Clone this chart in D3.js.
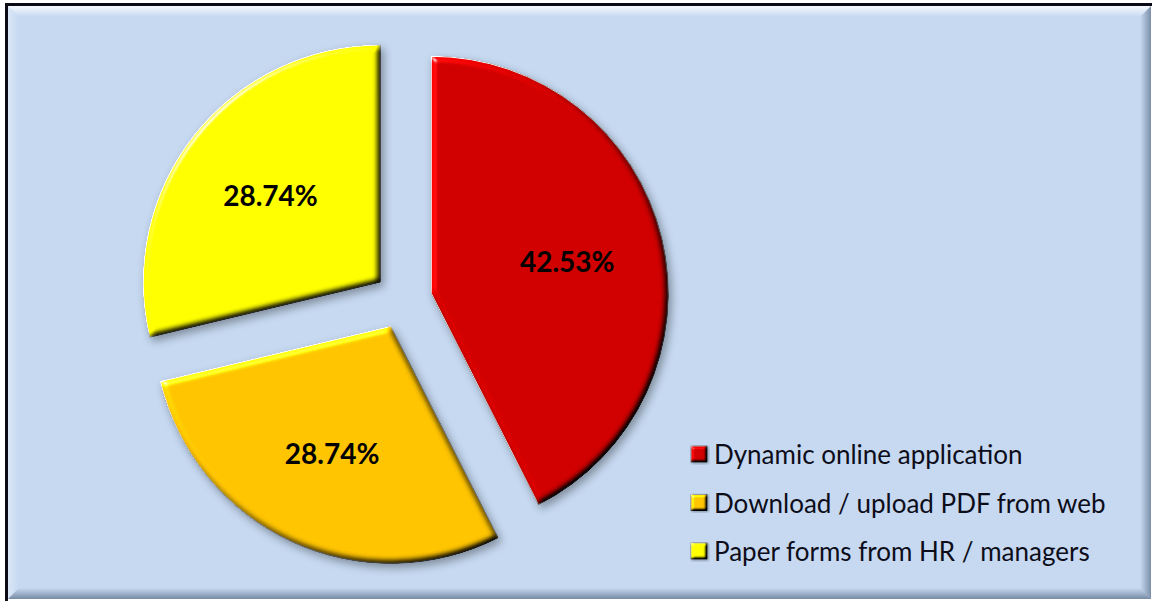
<!DOCTYPE html>
<html>
<head>
<meta charset="utf-8">
<script src="https://cdn.jsdelivr.net/npm/d3@7"></script>
<style>
  html, body { margin: 0; padding: 0; background: #ffffff; }
  svg { display: block; }
</style>
</head>
<body>
<svg id="chart" width="1157" height="603"></svg>
<script>
// Application method shares
const categories = ["Dynamic online application", "Download / upload PDF from web", "Paper forms from HR / managers"];
const shares = [42.53, 28.74, 28.74];
const valueLabels = ["42.53%", "28.74%", "28.74%"];
const sliceColors = ["#d00000", "#ffc400", "#ffff00"];

const W = 1157, H = 603;
const svg = d3.select("#chart");
const defs = svg.append("defs");

// Beveled look for the slices: light from upper left, soft drop shadow
function bevelFilter(id, blur, scale, shadowBlur, dx, dy) {
  const f = defs.append("filter").attr("id", id)
    .attr("x", "-10%").attr("y", "-10%").attr("width", "125%").attr("height", "125%")
    .attr("color-interpolation-filters", "sRGB");
  f.append("feGaussianBlur").attr("in", "SourceAlpha").attr("stdDeviation", blur).attr("result", "blur");
  const diff = f.append("feDiffuseLighting").attr("in", "blur").attr("surfaceScale", scale)
    .attr("diffuseConstant", 1).attr("lighting-color", "#ffffff").attr("result", "diff");
  diff.append("feDistantLight").attr("azimuth", 225).attr("elevation", 45);
  f.append("feComposite").attr("in", "SourceGraphic").attr("in2", "diff")
    .attr("operator", "arithmetic").attr("k1", 1.414).attr("k2", 0).attr("k3", 0).attr("k4", 0).attr("result", "lit");
  const spec = f.append("feSpecularLighting").attr("in", "blur").attr("surfaceScale", scale)
    .attr("specularConstant", 0.8).attr("specularExponent", 40).attr("lighting-color", "#ffffff").attr("result", "spec");
  spec.append("feDistantLight").attr("azimuth", 225).attr("elevation", 30);
  f.append("feComposite").attr("in", "spec").attr("in2", "SourceAlpha").attr("operator", "in").attr("result", "specIn");
  f.append("feComposite").attr("in", "lit").attr("in2", "specIn")
    .attr("operator", "arithmetic").attr("k1", 0).attr("k2", 1).attr("k3", 1).attr("k4", 0).attr("result", "bev");
  f.append("feComposite").attr("in", "bev").attr("in2", "SourceAlpha").attr("operator", "in").attr("result", "bevIn");
  f.append("feGaussianBlur").attr("in", "SourceAlpha").attr("stdDeviation", shadowBlur).attr("result", "sb");
  f.append("feOffset").attr("in", "sb").attr("dx", dx).attr("dy", dy).attr("result", "so");
  f.append("feFlood").attr("flood-color", "#000000").attr("flood-opacity", 0.35).attr("result", "sc");
  f.append("feComposite").attr("in", "sc").attr("in2", "so").attr("operator", "in").attr("result", "shadow");
  const m = f.append("feMerge");
  m.append("feMergeNode").attr("in", "shadow");
  m.append("feMergeNode").attr("in", "bevIn");
}
bevelFilter("sliceBevel", 3, 4, 4, 3, 4);
bevelFilter("keyBevel", 1.5, 3, 1.5, 1, 1);

// Panel gradients
function linGrad(id, x1, y1, x2, y2, stops) {
  const g = defs.append("linearGradient").attr("id", id)
    .attr("x1", x1).attr("y1", y1).attr("x2", x2).attr("y2", y2);
  stops.forEach(s => g.append("stop").attr("offset", s[0]).attr("stop-color", s[1]).attr("stop-opacity", s[2]));
}
linGrad("gTop", 0, 0, 0, 1, [[0, "#ffffff", 0.85], [1, "#ffffff", 0]]);
linGrad("gLeft", 0, 0, 1, 0, [[0, "#ffffff", 0.35], [1, "#ffffff", 0]]);
linGrad("gRight", 0, 0, 1, 0, [[0, "#6a7d96", 0], [1, "#6a7d96", 0.8]]);
linGrad("gBottom", 0, 0, 0, 1, [[0, "#6a7d96", 0], [1, "#6a7d96", 0.85]]);

// Chart panel
const px0 = 8, py0 = 6, px1 = 1151, py1 = 599, bw = 11;
svg.append("rect").attr("x", px0).attr("y", py0).attr("width", px1 - px0).attr("height", py1 - py0)
  .attr("fill", "#c6d9f1");
const bevel = svg.append("g");
bevel.append("polygon").attr("fill", "url(#gTop)")
  .attr("points", [[px0, py0], [px1, py0], [px1 - bw, py0 + bw], [px0 + bw, py0 + bw]].join(" "));
bevel.append("polygon").attr("fill", "url(#gLeft)")
  .attr("points", [[px0, py0], [px0 + bw, py0 + bw], [px0 + bw, py1 - bw], [px0, py1]].join(" "));
bevel.append("polygon").attr("fill", "url(#gRight)")
  .attr("points", [[px1, py0], [px1, py1], [px1 - bw, py1 - bw], [px1 - bw, py0 + bw]].join(" "));
bevel.append("polygon").attr("fill", "url(#gBottom)")
  .attr("points", [[px0, py1], [px0 + bw, py1 - bw], [px1 - bw, py1 - bw], [px1, py1]].join(" "));
svg.append("path").attr("d", `M${px0 - 1.5},${H - 2} L${px0 - 1.5},${py0 - 1.5} L${px1 + 1},${py0 - 1.5}`)
  .attr("fill", "none").attr("stroke", "#0a0a14").attr("stroke-width", 3);

// Exploded pie
const cx = 403, cy = 300, radius = 237, explode = 29;
const pie = d3.pie().sort(null).value(d => d);
const arcs = pie(shares);
const arc = d3.arc().innerRadius(0).outerRadius(radius);
const labelArc = d3.arc().innerRadius(0).outerRadius(radius * 1.18);

const pieG = svg.append("g").attr("transform", `translate(${cx},${cy})`);
const slice = pieG.selectAll("g.slice").data(arcs).join("g")
  .attr("class", "slice")
  .attr("transform", d => {
    const mid = (d.startAngle + d.endAngle) / 2;
    return `translate(${Math.sin(mid) * explode},${-Math.cos(mid) * explode})`;
  });
slice.append("path")
  .attr("d", arc)
  .attr("fill", (d, i) => sliceColors[i])
  .attr("stroke", "#e8e8e8")
  .attr("stroke-width", 1)
  .attr("filter", "url(#sliceBevel)");
slice.append("text")
  .attr("transform", d => `translate(${labelArc.centroid(d)})`)
  .attr("text-anchor", "middle")
  .attr("dominant-baseline", "central")
  .attr("font-family", "Lato, 'Open Sans', sans-serif")
  .attr("font-weight", 700)
  .attr("font-size", 28)
  .attr("fill", "#000000")
  .text((d, i) => valueLabels[i]);

// Legend
const legend = svg.append("g").attr("transform", "translate(691,454)");
const row = legend.selectAll("g").data(categories).join("g")
  .attr("transform", (d, i) => `translate(0,${i * 48.5})`);
row.append("rect")
  .attr("x", 0).attr("y", -8).attr("width", 16).attr("height", 16)
  .attr("fill", (d, i) => sliceColors[i])
  .attr("stroke", "#8a8a8a").attr("stroke-width", 1)
  .attr("filter", "url(#keyBevel)");
row.append("text")
  .attr("x", 23).attr("y", 0)
  .attr("dominant-baseline", "central")
  .attr("font-family", "Lato, 'Open Sans', sans-serif")
  .attr("font-size", 26)
  .attr("fill", "#0d0d1a")
  .text(d => d);
</script>
</body>
</html>
